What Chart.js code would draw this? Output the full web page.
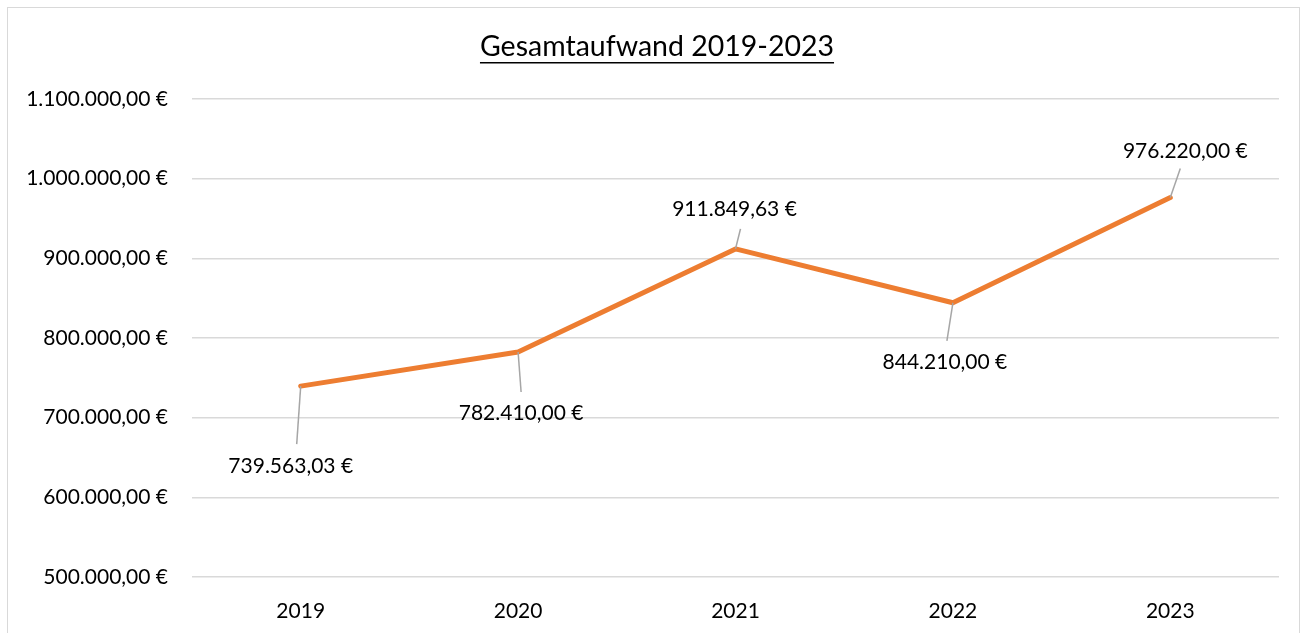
<!DOCTYPE html>
<html>
<head>
<meta charset="utf-8">
<script src="https://cdn.jsdelivr.net/npm/chart.js@4.4.0/dist/chart.umd.min.js"></script>
<style>
  html, body { margin: 0; padding: 0; background: #fff; }
  #wrap { width: 1307px; height: 633px; position: relative; }
</style>
</head>
<body>
<div id="wrap"><canvas id="myChart" width="1307" height="633"></canvas></div>
<script>
// chart values
const years = ["2019", "2020", "2021", "2022", "2023"];
const totals = [739563.03, 782410.00, 911849.63, 844210.00, 976220.00];
const chartTitle = "Gesamtaufwand 2019-2023";
const yMin = 500000;
const yMax = 1100000;
const yStep = 100000;

// label placement relative to each point: [label dx, label dy, leader dx, leader dy]
const labelPlacement = [
  [-10, 80, -4, 58],
  [3, 61, 3, 40],
  [-1, -40, 5, -20],
  [-8, 59, -6, 38],
  [15, -46, 10, -29]
];

const fontFamily = "Lato, 'Open Sans', sans-serif";

// german currency format, e.g. 1.100.000,00 €
function euro(v) {
  const parts = v.toFixed(2).split(".");
  const int = parts[0].replace(/\B(?=(\d{3})+(?!\d))/g, ".");
  return int + "," + parts[1] + " €";
}

// draws border, underlined title and data labels with leader lines
const decorations = {
  id: "decorations",
  afterDraw(chart) {
    const ctx = chart.ctx;
    ctx.save();
    // outer frame
    ctx.strokeStyle = "#d9d9d9";
    ctx.lineWidth = 1;
    ctx.strokeRect(7.5, 7.5, 1292, 640);

    // title
    ctx.fillStyle = "#000";
    ctx.font = "28.5px " + fontFamily;
    ctx.textAlign = "center";
    ctx.textBaseline = "middle";
    ctx.fillText(chartTitle, 657, 47);
    const w = ctx.measureText(chartTitle).width;
    ctx.fillRect(657 - w / 2, 62, w, 1.5);

    // data labels
    const meta = chart.getDatasetMeta(0);
    ctx.font = "21px " + fontFamily;
    meta.data.forEach((pt, i) => {
      const p = labelPlacement[i];
      ctx.strokeStyle = "#a6a6a6";
      ctx.lineWidth = 1.5;
      ctx.beginPath();
      ctx.moveTo(pt.x, pt.y);
      ctx.lineTo(pt.x + p[2], pt.y + p[3]);
      ctx.stroke();
      ctx.fillStyle = "#000";
      ctx.fillText(euro(totals[i]), pt.x + p[0], pt.y + p[1]);
    });
    ctx.restore();
  }
};

const ctx = document.getElementById("myChart").getContext("2d");
const myChart = new Chart(ctx, {
  type: "line",
  data: {
    labels: years,
    datasets: [{
      data: totals,
      borderColor: "#ED7D31",
      borderWidth: 5,
      pointRadius: 0,
      tension: 0,
      borderCapStyle: "round",
      borderJoinStyle: "round"
    }]
  },
  options: {
    responsive: false,
    animation: false,
    layout: { padding: { top: 99, right: 28, left: 0, bottom: 0 } },
    plugins: {
      legend: { display: false },
      title: { display: false },
      tooltip: { enabled: false }
    },
    scales: {
      x: {
        offset: true,
        grid: { display: false },
        border: { display: false },
        ticks: { color: "#000", font: { family: fontFamily, size: 21 }, padding: 14 },
        afterFit(scale) { scale.height = 56; }
      },
      y: {
        min: yMin,
        max: yMax,
        grid: { color: "#d9d9d9", lineWidth: 1.5, drawTicks: false },
        border: { display: false },
        ticks: {
          stepSize: yStep,
          color: "#000",
          font: { family: fontFamily, size: 21 },
          padding: 24,
          callback: v => euro(v)
        },
        afterFit(scale) { scale.width = 192; }
      }
    }
  },
  plugins: [decorations]
});
</script>
</body>
</html>
